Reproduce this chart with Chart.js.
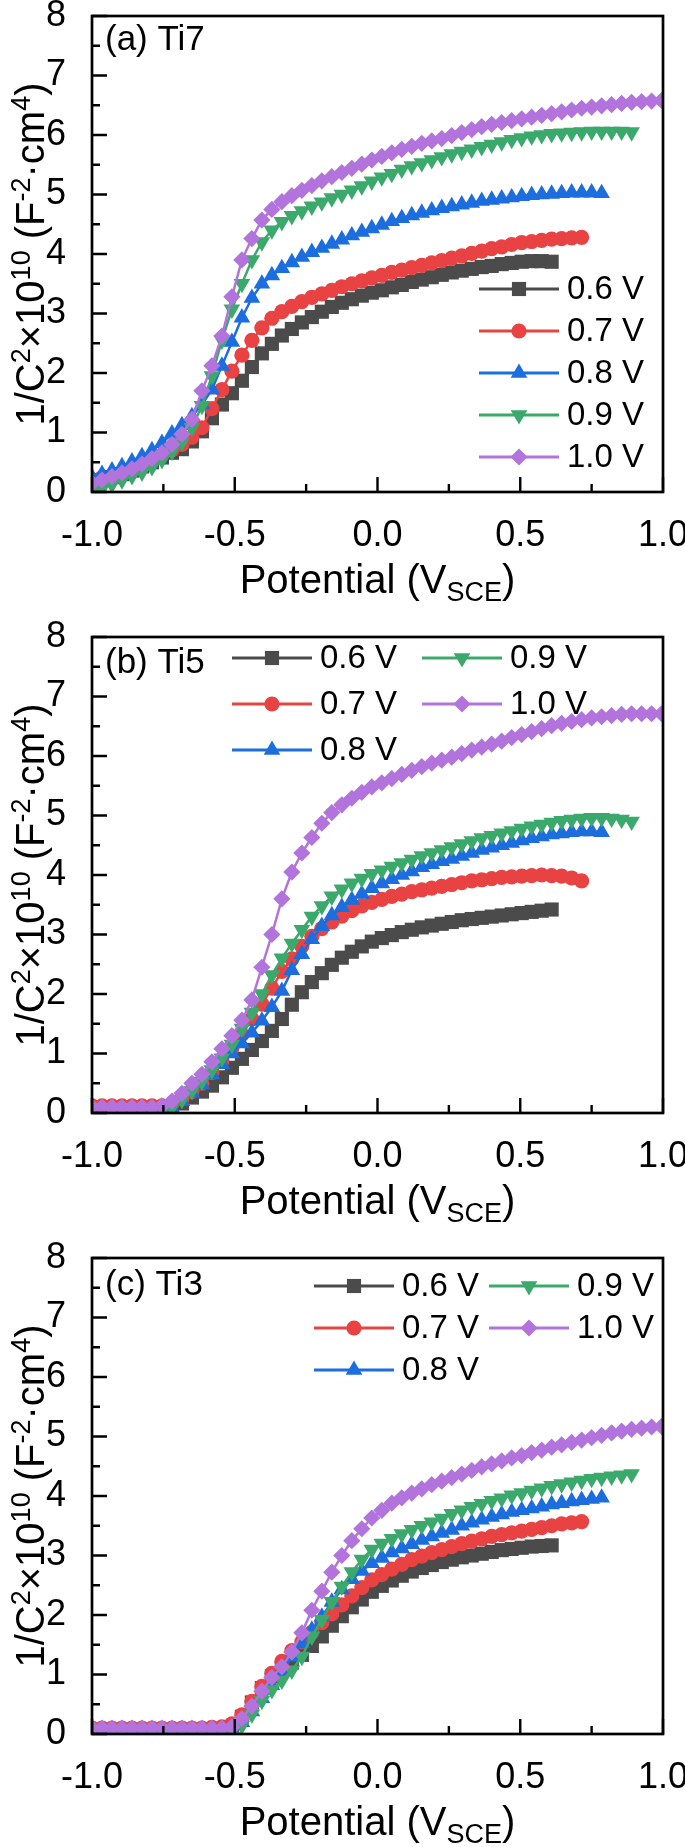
<!DOCTYPE html>
<html>
<head>
<meta http-equiv="Content-Type" content="text/html; charset=utf-8"/>
<script src="https://cdn.jsdelivr.net/npm/chart.js@4.4.1/dist/chart.umd.min.js"></script>
<style>
  body { margin: 0; background: #fff; overflow: hidden; }
  .panel { position: absolute; left: 0; width: 685px; }
</style>
</head>
<body>
<div class="panel" style="top:0px"><canvas id="chartA" width="685" height="621"></canvas></div>
<div class="panel" style="top:621px"><canvas id="chartB" width="685" height="621"></canvas></div>
<div class="panel" style="top:1242px"><canvas id="chartC" width="685" height="605"></canvas></div>
<script>
// potential grid (V vs SCE)
var potential = [-1.000,-0.965,-0.930,-0.895,-0.860,-0.825,-0.790,-0.755,-0.720,-0.685,
  -0.650,-0.615,-0.580,-0.545,-0.510,-0.475,-0.440,-0.405,-0.370,-0.335,
  -0.300,-0.265,-0.230,-0.195,-0.160,-0.125,-0.090,-0.055,-0.020,0.015,
  0.050,0.085,0.120,0.155,0.190,0.225,0.260,0.295,0.330,0.365,
  0.400,0.435,0.470,0.505,0.540,0.575,0.610,0.645,0.680,0.715,
  0.750,0.785,0.820,0.855,0.890,0.925,0.960,0.995];

var seriesLabels = ['0.6 V', '0.7 V', '0.8 V', '0.9 V', '1.0 V'];
var xTickValues = [-1, -0.5, 0, 0.5, 1];
var xMinorTicks = [-0.75, -0.25, 0.25, 0.75];
var yTickValues = [0, 1, 2, 3, 4, 5, 6, 7, 8];
var yMinorTicks = [0.5, 1.5, 2.5, 3.5, 4.5, 5.5, 6.5, 7.5];

// (a) Ti7
var ti7_06 = [0.15,0.20,0.25,0.30,0.36,0.43,0.50,0.58,0.66,0.72,
  0.85,1.02,1.24,1.47,1.66,1.87,2.10,2.33,2.49,2.63,
  2.74,2.85,2.94,3.03,3.11,3.18,3.24,3.30,3.35,3.39,
  3.44,3.48,3.53,3.57,3.61,3.65,3.69,3.72,3.75,3.78,
  3.80,3.83,3.85,3.87,3.88,3.88,3.87];
var ti7_07 = [0.20,0.24,0.28,0.33,0.39,0.46,0.54,0.62,0.71,0.80,
  0.92,1.08,1.40,1.72,2.03,2.30,2.55,2.76,2.92,3.03,
  3.12,3.20,3.27,3.33,3.39,3.45,3.50,3.55,3.60,3.64,
  3.69,3.73,3.77,3.81,3.85,3.89,3.93,3.97,4.01,4.05,
  4.09,4.12,4.16,4.19,4.21,4.23,4.25,4.26,4.27,4.28];
var ti7_08 = [0.25,0.30,0.36,0.43,0.51,0.60,0.70,0.82,0.98,1.12,
  1.27,1.47,1.72,2.12,2.52,2.93,3.26,3.50,3.64,3.76,
  3.86,3.95,4.03,4.10,4.17,4.24,4.31,4.37,4.43,4.49,
  4.55,4.60,4.65,4.69,4.73,4.77,4.80,4.83,4.86,4.89,
  4.91,4.93,4.95,4.97,4.99,5.00,5.01,5.02,5.03,5.03,
  5.03,5.02];
var ti7_09 = [0.00,0.06,0.13,0.20,0.27,0.33,0.42,0.54,0.68,0.84,
  1.08,1.45,1.95,2.55,3.07,3.50,3.90,4.20,4.40,4.54,
  4.64,4.72,4.80,4.87,4.94,5.00,5.07,5.14,5.22,5.29,
  5.35,5.42,5.48,5.53,5.58,5.63,5.68,5.72,5.76,5.80,
  5.84,5.88,5.92,5.95,5.98,6.00,6.02,6.03,6.04,6.05,
  6.06,6.06,6.06,6.06,6.05];
var ti7_10 = [0.15,0.20,0.26,0.32,0.39,0.47,0.56,0.66,0.80,0.97,
  1.22,1.70,2.12,2.62,3.28,3.90,4.26,4.57,4.75,4.88,
  4.98,5.07,5.15,5.23,5.30,5.37,5.44,5.51,5.58,5.64,
  5.70,5.76,5.81,5.86,5.90,5.94,5.99,6.04,6.09,6.14,
  6.18,6.21,6.24,6.27,6.30,6.33,6.36,6.39,6.42,6.45,
  6.47,6.49,6.51,6.53,6.55,6.56,6.57,6.58];

// (b) Ti5
var ti5_06 = [0.03,0.03,0.03,0.03,0.03,0.03,0.03,0.04,0.08,0.16,
  0.26,0.36,0.46,0.60,0.76,0.91,1.06,1.21,1.38,1.58,
  1.82,2.03,2.20,2.35,2.49,2.61,2.71,2.80,2.88,2.94,
  2.99,3.04,3.08,3.12,3.15,3.18,3.21,3.24,3.26,3.28,
  3.30,3.32,3.34,3.36,3.38,3.40,3.42];
var ti5_07 = [0.12,0.12,0.12,0.12,0.12,0.12,0.12,0.12,0.15,0.24,
  0.36,0.50,0.68,0.88,1.09,1.32,1.58,1.83,2.10,2.38,
  2.59,2.80,2.97,3.10,3.21,3.31,3.40,3.48,3.54,3.59,
  3.64,3.68,3.72,3.75,3.78,3.81,3.84,3.87,3.90,3.92,
  3.94,3.96,3.97,3.98,3.99,4.00,3.99,3.98,3.95,3.90];
var ti5_08 = [0.04,0.04,0.04,0.04,0.04,0.04,0.03,0.03,0.08,0.20,
  0.34,0.48,0.65,0.82,1.00,1.17,1.35,1.55,1.78,2.05,
  2.40,2.67,2.92,3.14,3.32,3.46,3.58,3.68,3.78,3.86,
  3.93,4.00,4.06,4.13,4.18,4.23,4.27,4.32,4.37,4.42,
  4.46,4.50,4.54,4.58,4.62,4.65,4.68,4.70,4.72,4.73,
  4.73,4.72];
var ti5_09 = [0.05,0.05,0.05,0.05,0.05,0.05,0.04,0.04,0.10,0.22,
  0.37,0.53,0.72,0.92,1.15,1.42,1.69,2.00,2.32,2.60,
  2.85,3.08,3.30,3.48,3.64,3.76,3.86,3.94,4.02,4.08,
  4.14,4.20,4.26,4.32,4.37,4.42,4.47,4.52,4.57,4.62,
  4.66,4.70,4.74,4.78,4.82,4.85,4.88,4.91,4.93,4.95,
  4.96,4.96,4.95,4.93,4.90];
var ti5_10 = [0.10,0.10,0.10,0.10,0.10,0.10,0.10,0.12,0.20,0.33,
  0.50,0.65,0.86,1.08,1.30,1.56,1.90,2.45,3.00,3.60,
  4.05,4.37,4.63,4.87,5.05,5.18,5.29,5.39,5.48,5.55,
  5.62,5.69,5.76,5.82,5.88,5.93,5.98,6.04,6.10,6.15,
  6.20,6.25,6.31,6.36,6.41,6.46,6.51,6.55,6.58,6.61,
  6.64,6.66,6.68,6.70,6.71,6.71,6.71,6.71];

// (c) Ti3
var ti3_06 = [0.05,0.05,0.05,0.05,0.05,0.05,0.05,0.05,0.05,0.05,
  0.05,0.05,0.05,0.06,0.12,0.29,0.53,0.77,0.97,1.10,
  1.20,1.33,1.48,1.64,1.82,1.98,2.13,2.26,2.39,2.49,
  2.58,2.66,2.73,2.79,2.84,2.89,2.93,2.97,3.00,3.03,
  3.06,3.09,3.11,3.13,3.15,3.16,3.17];
var ti3_07 = [0.10,0.10,0.10,0.10,0.10,0.10,0.10,0.10,0.10,0.10,
  0.10,0.10,0.11,0.12,0.17,0.32,0.55,0.80,1.02,1.22,
  1.40,1.55,1.71,1.87,2.02,2.17,2.32,2.46,2.59,2.68,
  2.77,2.85,2.93,2.99,3.05,3.10,3.15,3.20,3.24,3.28,
  3.32,3.35,3.38,3.41,3.44,3.47,3.50,3.53,3.55,3.57];
var ti3_08 = [0.06,0.06,0.06,0.06,0.06,0.06,0.06,0.06,0.06,0.06,
  0.06,0.06,0.06,0.06,0.09,0.20,0.38,0.60,0.82,1.05,
  1.30,1.52,1.75,1.97,2.22,2.43,2.60,2.74,2.87,2.96,
  3.05,3.12,3.19,3.26,3.32,3.38,3.43,3.50,3.55,3.60,
  3.65,3.69,3.73,3.76,3.79,3.82,3.86,3.88,3.91,3.93,
  3.95,3.97];
var ti3_09 = [0.05,0.05,0.05,0.05,0.05,0.05,0.05,0.05,0.05,0.05,
  0.05,0.05,0.05,0.05,0.05,0.14,0.33,0.56,0.74,0.90,
  1.07,1.30,1.64,1.92,2.22,2.48,2.72,2.93,3.10,3.20,
  3.28,3.36,3.43,3.50,3.56,3.62,3.70,3.76,3.82,3.87,
  3.92,3.96,4.01,4.05,4.09,4.13,4.17,4.20,4.23,4.26,
  4.29,4.31,4.33,4.35,4.37];
var ti3_10 = [0.10,0.10,0.10,0.10,0.10,0.10,0.10,0.10,0.10,0.10,
  0.10,0.10,0.10,0.10,0.12,0.26,0.47,0.72,0.95,1.13,
  1.38,1.70,2.08,2.40,2.72,3.00,3.25,3.45,3.63,3.76,
  3.88,3.97,4.05,4.12,4.19,4.25,4.31,4.37,4.43,4.49,
  4.54,4.59,4.64,4.68,4.73,4.77,4.82,4.86,4.90,4.94,
  4.98,5.02,5.06,5.09,5.12,5.14,5.16,5.17];

var FONT = "'Liberation Sans', Arial, sans-serif";
var colors = ['#4b4b4b', '#e84242', '#1c6ddd', '#3aa96b', '#b274dc'];
var markers = ['rect', 'circle', 'triangle', 'triangleDown', 'rectRot'];
var markerSize = { rect: 10, circle: 7.6, triangle: 9.6, triangleDown: 9.6, rectRot: 8.6 };

// y title: 1/C2x1010 (F-2.cm4), x title: Potential (V_SCE)
var yTitle = [['1/C', 0], ['2', 1], ['\u00d710', 0], ['10', 1], [' (F', 0], ['-2', 1], ['\u00b7cm', 0], ['4', 1], [')', 0]];
var xTitle = [['Potential (V', 0], ['SCE', -1], [')', 0]];

function drawMarker(ctx, kind, x, y, r) {
  ctx.beginPath();
  if (kind === 'rect') {
    var s = r * Math.SQRT1_2;
    ctx.rect(x - s, y - s, 2 * s, 2 * s);
  } else if (kind === 'circle') {
    ctx.arc(x, y, r, 0, Math.PI * 2);
  } else if (kind === 'triangle' || kind === 'triangleDown') {
    var rad = kind === 'triangle' ? 0 : Math.PI;
    for (var k = 0; k < 3; k++) {
      var px = x + Math.sin(rad) * r, py = y - Math.cos(rad) * r;
      if (k === 0) ctx.moveTo(px, py); else ctx.lineTo(px, py);
      rad += Math.PI * 2 / 3;
    }
    ctx.closePath();
  } else {
    ctx.moveTo(x, y - r); ctx.lineTo(x + r, y); ctx.lineTo(x, y + r); ctx.lineTo(x - r, y);
    ctx.closePath();
  }
  ctx.fill();
}

function partFont(p, size) {
  return (p[1] === 0 ? size : Math.round(size * 0.68)) + 'px ' + FONT;
}

function richWidth(ctx, parts, size) {
  var w = 0;
  parts.forEach(function (p) {
    ctx.font = partFont(p, size);
    w += ctx.measureText(p[0]).width;
  });
  return w;
}

function drawRich(ctx, parts, cx, baseY, size) {
  var x = cx - richWidth(ctx, parts, size) / 2;
  ctx.textAlign = 'left';
  ctx.textBaseline = 'alphabetic';
  parts.forEach(function (p) {
    ctx.font = partFont(p, size);
    var dy = p[1] === 1 ? -size * 0.36 : (p[1] === -1 ? size * 0.2 : 0);
    ctx.fillText(p[0], x, baseY + dy);
    x += ctx.measureText(p[0]).width;
  });
}

var panelDecor = {
  id: 'panelDecor',
  afterDatasetsDraw: function (chart, args, opts) {
    var ctx = chart.ctx, a = chart.chartArea, xs = chart.scales.x, ys = chart.scales.y;
    ctx.save();
    ctx.strokeStyle = '#000';
    ctx.lineWidth = 2.4;
    ctx.beginPath();
    xTickValues.forEach(function (v) { var p = xs.getPixelForValue(v); ctx.moveTo(p, a.bottom); ctx.lineTo(p, a.bottom - 15); });
    xMinorTicks.forEach(function (v) { var p = xs.getPixelForValue(v); ctx.moveTo(p, a.bottom); ctx.lineTo(p, a.bottom - 8); });
    yTickValues.forEach(function (v) { var p = ys.getPixelForValue(v); ctx.moveTo(a.left, p); ctx.lineTo(a.left + 15, p); });
    yMinorTicks.forEach(function (v) { var p = ys.getPixelForValue(v); ctx.moveTo(a.left, p); ctx.lineTo(a.left + 8, p); });
    ctx.stroke();
    ctx.lineWidth = 2.7;
    ctx.strokeRect(a.left, a.top, a.right - a.left, a.bottom - a.top);

    ctx.fillStyle = '#000';
    // panel label
    ctx.font = '35px ' + FONT;
    ctx.textAlign = 'left';
    ctx.textBaseline = 'alphabetic';
    ctx.fillText(opts.label, a.left + 13, opts.labelY);

    // legend
    var lg = opts.legend;
    lg.cols.forEach(function (col, ci) {
      col.forEach(function (si, ri) {
        var x0 = lg.colX[ci], yy = lg.top + ri * lg.gap;
        ctx.strokeStyle = colors[si];
        ctx.lineWidth = 2.8;
        ctx.beginPath(); ctx.moveTo(x0, yy); ctx.lineTo(x0 + 80, yy); ctx.stroke();
        ctx.fillStyle = colors[si];
        drawMarker(ctx, markers[si], x0 + 40, yy, markerSize[markers[si]]);
        ctx.fillStyle = '#000';
        ctx.font = '33px ' + FONT;
        ctx.textBaseline = 'middle';
        ctx.fillText(seriesLabels[si], x0 + 88, yy + 1);
      });
    });

    // axis titles
    ctx.fillStyle = '#000';
    drawRich(ctx, xTitle, (a.left + a.right) / 2, a.bottom + 101, 40);
    ctx.translate(44, (a.top + a.bottom) / 2);
    ctx.rotate(-Math.PI / 2);
    drawRich(ctx, yTitle, 0, 0, 40);
    ctx.restore();
  }
};

function makePanel(id, ys, deco) {
  var canvas = document.getElementById(id);
  var H = canvas.height;
  var datasets = ys.map(function (arr, i) {
    var m = markers[i];
    return {
      label: seriesLabels[i],
      data: arr.map(function (v, j) { return { x: potential[j], y: v }; }),
      showLine: true,
      borderColor: colors[i],
      backgroundColor: colors[i],
      borderWidth: 2.5,
      pointStyle: m === 'triangleDown' ? 'triangle' : m,
      pointRotation: m === 'triangleDown' ? 180 : 0,
      pointRadius: markerSize[m],
      pointHoverRadius: markerSize[m],
      pointBorderWidth: 0,
      clip: 0
    };
  }).reverse(); // later series drawn on top

  return new Chart(canvas, {
    type: 'scatter',
    data: { datasets: datasets },
    options: {
      responsive: false,
      animation: false,
      layout: { padding: { top: 16, right: 22, left: 0, bottom: 0 } },
      plugins: { legend: { display: false }, tooltip: { enabled: false }, panelDecor: deco },
      scales: {
        x: {
          type: 'linear', min: -1, max: 1,
          afterBuildTicks: function (s) { s.ticks = xTickValues.map(function (v) { return { value: v }; }); },
          ticks: { callback: function (v) { return v.toFixed(1); }, color: '#000', font: { size: 36, family: FONT }, padding: 14, maxRotation: 0, autoSkip: false },
          grid: { display: false }, border: { display: false },
          afterFit: function (s) { s.height = H - 16 - 476; s.paddingLeft = 0; s.paddingRight = 0; }
        },
        y: {
          type: 'linear', min: 0, max: 8,
          afterBuildTicks: function (s) { s.ticks = yTickValues.map(function (v) { return { value: v }; }); },
          ticks: { color: '#000', font: { size: 36, family: FONT }, padding: 18 },
          grid: { display: false }, border: { display: false },
          afterFit: function (s) { s.width = 92; s.paddingTop = 0; s.paddingBottom = 0; }
        }
      }
    },
    plugins: [panelDecor]
  });
}

makePanel('chartA', [ti7_06, ti7_07, ti7_08, ti7_09, ti7_10], {
  label: '(a) Ti7', labelY: 50,
  legend: { cols: [[0, 1, 2, 3, 4]], colX: [479], top: 289, gap: 42 }
});
makePanel('chartB', [ti5_06, ti5_07, ti5_08, ti5_09, ti5_10], {
  label: '(b) Ti5', labelY: 52,
  legend: { cols: [[0, 1, 2], [3, 4]], colX: [232, 422], top: 37, gap: 46 }
});
makePanel('chartC', [ti3_06, ti3_07, ti3_08, ti3_09, ti3_10], {
  label: '(c) Ti3', labelY: 53,
  legend: { cols: [[0, 1, 2], [3, 4]], colX: [314, 489], top: 44, gap: 42 }
});
</script>
</body>
</html>
